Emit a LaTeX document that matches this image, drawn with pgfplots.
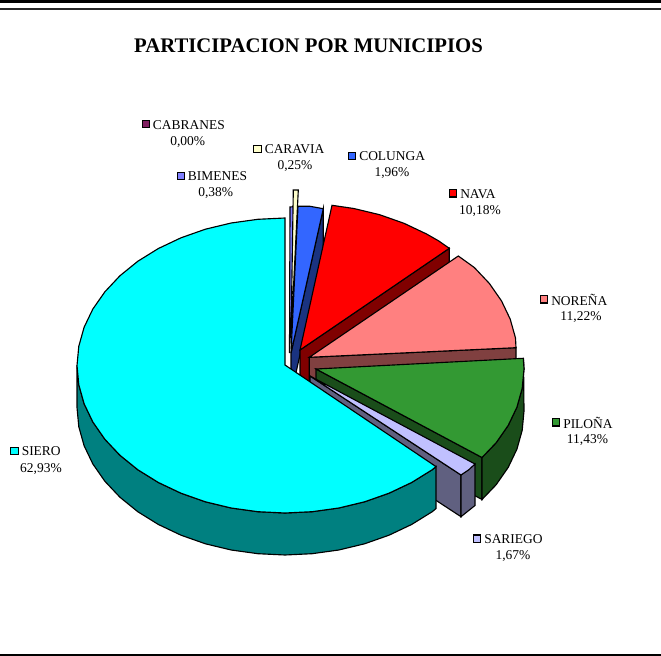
\documentclass[border=0pt]{standalone}
\usepackage{pgfplots}
\pgfplotsset{compat=1.18}
\usepackage{fontspec}
\setmainfont{Liberation Serif}
\definecolor{csiero}{HTML}{00FFFF}\definecolor{wsiero}{HTML}{008080}
\definecolor{cnava}{HTML}{FF0000}\definecolor{wnava}{HTML}{800000}
\definecolor{cnor}{HTML}{FF8080}\definecolor{wnor}{HTML}{804040}
\definecolor{cpil}{HTML}{339933}\definecolor{wpil}{HTML}{1A4D1A}
\definecolor{csar}{HTML}{C0C0FF}\definecolor{wsar}{HTML}{606080}
\definecolor{ccol}{HTML}{3366FF}\definecolor{wcol}{HTML}{1A3380}
\definecolor{ccar}{HTML}{FFFFCC}\definecolor{cbim}{HTML}{8080FF}
\definecolor{ccab}{HTML}{802060}
\newcommand{\lab}[7]{% color, keyx, y, name, pctx, pcty, pct
  \addplot[only marks,mark=square*,mark size=2.7pt,mark options={fill=#1,draw=black,line width=0.8pt}] coordinates {(#2,#3)};
  \node[anchor=west,inner sep=0pt,font=\fontsize{10.1}{12}\selectfont] at (axis cs:#2+7,#3+0.6) {#4};
  \node[inner sep=0pt,font=\fontsize{10.1}{12}\selectfont] at (axis cs:#5,#6+0.6) {#7};
}
\begin{document}
\begin{tikzpicture}
\begin{axis}[scale only axis,width=495.75pt,height=492pt,xmin=0,xmax=661,ymin=0,ymax=656,y dir=reverse,axis lines=none,clip=true]
% rules
\addplot[black,line width=2.6pt,forget plot] coordinates {(0,1.5)(661,1.5)};
\addplot[black!85,line width=1pt,forget plot] coordinates {(0,9)(661,9)};
\addplot[black,line width=0.9pt,forget plot] coordinates {(0,655)(661,655)};
\pgfplotsset{every axis plot/.append style={line width=0.85pt,draw=black}}
% Bimenes
\addplot[fill=cbim] coordinates {(289.5,353)(290,207)(296,206.5)} -- cycle;
% Caravia
\addplot[fill=ccar] coordinates {(291,338)(293.3,190)(298.3,190)} -- cycle;
% Colunga
\addplot[fill=wcol] coordinates {(291,353)(323.3,208.7)(323.3,250.7)(291,395)} -- cycle;
\addplot[fill=ccol] coordinates {(291,353)(298,206.2)(310,206.3)(323.3,208.7)} -- cycle;
% Nava
\addplot[fill=wnava] coordinates {(300,350)(449.3,248.3)(449.3,290.3)(300,392)} -- cycle;
\addplot[fill=cnava] coordinates {(300,350)(332,205.3)(353.8,208.5)(379.6,214.7)(404,223.3)(426.6,234)(438.5,240.8)(449.3,248.3)} -- cycle;
% Norena
\addplot[fill=wnor] coordinates {(309.3,357.3)(516,347.7)(516,389.7)(309.3,399.3)} -- cycle;
\addplot[fill=cnor] coordinates {(309.3,357.3)(458.3,256)(474.3,267.5)(489.4,283.5)(501.5,300.9)(510.2,319.1)(515.5,338)(516,347.7)} -- cycle;
% Pilona
\addplot[fill=wpil] coordinates {(316,369)(482,457.5)(482,499.5)(316,411)} -- cycle;
\addplot[fill=wpil] coordinates {(523.5,358.3)(524,369)(522.2,388.3)(516.9,407.2)(508.2,425.4)(496.1,442.8)(482,457.5)(482,499.5)(496.1,484.8)(508.2,467.4)(516.9,449.2)(522.2,430.3)(524,411)} -- cycle;
\addplot[fill=cpil] coordinates {(316,369)(523.3,358.3)(524,369)(522.2,388.3)(516.9,407.2)(508.2,425.4)(496.1,442.8)(482,457.5)} -- cycle;
% Sariego
\addplot[fill=wsar] coordinates {(310,376)(461,475)(461,516.7)(310,418)} -- cycle;
\addplot[fill=wsar] coordinates {(461,475)(475,464)(475,505.5)(461,516.7)} -- cycle;
\addplot[fill=csar] coordinates {(310,376)(475,464)(468.5,470)(461,475)} -- cycle;
% Siero
\addplot[fill=wsiero] coordinates {(77,365.5)(78.8,384.75)(84.1,403.7)(92.8,421.9)(104.9,439.3)(120,455.3)(137.9,469.8)(158.4,482.5)(181,493.2)(205.4,501.8)(231.2,508)(257.9,511.7)(285,513)(312.1,511.7)(338.8,508)(364.6,501.8)(389,493.2)(411.6,482.5)(432.1,469.8)(436,466.6)
(436,508.6)(432.1,511.8)(411.6,524.5)(389,535.2)(364.6,543.8)(338.8,550)(312.1,553.7)(285,555)(257.9,553.7)(231.2,550)(205.4,543.8)(181,535.2)(158.4,524.5)(137.9,511.8)(120,497.3)(104.9,481.3)(92.8,463.9)(84.1,445.7)(78.8,426.75)(77,407.5)} -- cycle;
\addplot[fill=csiero] coordinates {(285,365)(285,218)(257.9,219.3)(231.2,223)(205.4,229.2)(181,237.8)(158.4,248.5)(137.9,261.2)(120,275.7)(104.9,291.8)(92.8,309.1)(84.1,327.3)(78.8,346.25)(77,365.5)(78.8,384.75)(84.1,403.7)(92.8,421.9)(104.9,439.3)(120,455.3)(137.9,469.8)(158.4,482.5)(181,493.2)(205.4,501.8)(231.2,508)(257.9,511.7)(285,513)(312.1,511.7)(338.8,508)(364.6,501.8)(389,493.2)(411.6,482.5)(432.1,469.8)(436,466.6)} -- cycle;
% labels
\node[font=\bfseries\fontsize{15.55}{18}\selectfont,inner sep=0pt] at (axis cs:308.5,45.5) {PARTICIPACION POR MUNICIPIOS};
\lab{ccab}{145.7}{124.3}{CABRANES}{187.7}{141}{0,00\%}
\lab{ccar}{257.5}{149}{CARAVIA}{295}{165.7}{0,25\%}
\lab{cbim}{180.7}{175.7}{BIMENES}{215.7}{192}{0,38\%}
\lab{ccol}{352}{155.7}{COLUNGA}{392}{172}{1,96\%}
\lab{cnava}{453}{193.4}{NAVA}{480}{210}{10,18\%}
\lab{cnor}{544}{299.4}{NOREÑA}{581}{316}{11,22\%}
\lab{cpil}{556}{422.4}{PILOÑA}{587.5}{439}{11,43\%}
\lab{csar}{477}{538.6}{SARIEGO}{513}{555}{1,67\%}
\lab{csiero}{14.5}{451}{SIERO}{41}{468}{62,93\%}
\end{axis}
\end{tikzpicture}
\end{document}
